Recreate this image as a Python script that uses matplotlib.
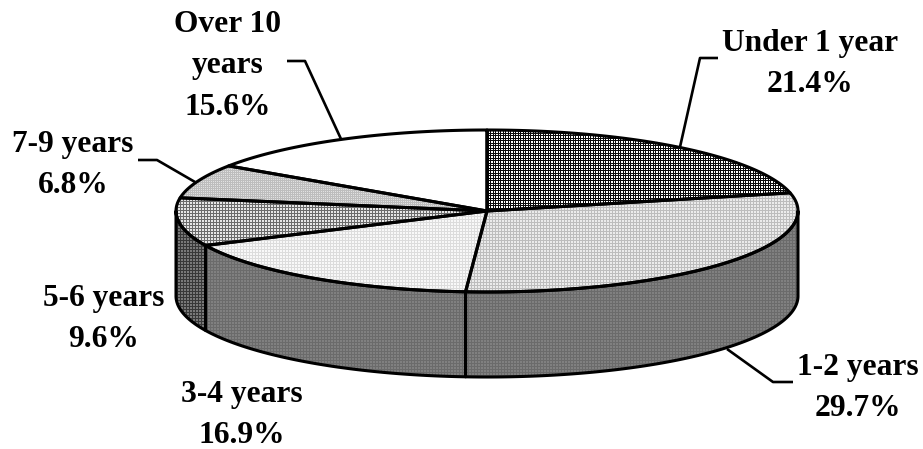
import numpy as np
import matplotlib
matplotlib.use("Agg")
import matplotlib.pyplot as plt
from matplotlib.patches import Polygon

# slices, clockwise from 12 o'clock
labels = ["Under 1 year", "1-2 years", "3-4 years", "5-6 years", "7-9 years", "Over 10\nyears"]
shares = [21.4, 29.7, 16.9, 9.6, 6.8, 15.6]

W, H = 923, 449
CX, CY, RX, RY, DEPTH = 487, 211, 311, 81, 85
LW = 2.2

label_pos = [(810, 64), (858, 388), (242, 415), (104, 319), (73, 165), (228, 66)]
leaders = [[(718, 58), (700, 58), (680, 147)],
           [(793, 382), (773, 382), (727, 349)],
           None,
           None,
           [(138, 160), (157, 160), (195, 182)],
           [(287, 61), (305, 61), (341, 139)]]

yy, xx = np.mgrid[0:H, 0:W]


def grid(period, on, off, frac=0.33):
    # woven screen pattern, like the old office-chart fills
    lines = ((xx % period) < period * frac) | ((yy % period) < period * frac)
    return np.where(lines, on, off)


top_fill = [grid(2.5, 0.05, 1.0, 0.4), grid(3, 0.74, 0.92), grid(3, 0.86, 0.97),
            grid(3, 0.42, 0.9), grid(2, 0.74, 0.88, 0.5), np.ones((H, W))]
wall_fill = [None, grid(3, 0.42, 0.5), grid(3, 0.42, 0.5), grid(3, 0.22, 0.48)]


def pt(deg):
    a = np.radians(deg)
    return CX + RX * np.cos(a), CY - RY * np.sin(a)


def arc(d0, d1):
    a = np.linspace(d0, d1, 200)
    return np.column_stack(pt(a))


def fill(ax, verts, img):
    im = ax.imshow(img, cmap="gray", vmin=0, vmax=1, extent=(0, W, H, 0),
                   interpolation="nearest", aspect="auto", zorder=1)
    edge = Polygon(verts, closed=True, fc="none", ec="black", lw=LW,
                   joinstyle="round", zorder=2)
    ax.add_patch(edge)
    im.set_clip_path(edge)


plt.rcParams["font.family"] = "Liberation Serif"
fig = plt.figure(figsize=(W / 100, H / 100), dpi=100)
ax = fig.add_axes([0, 0, 1, 1])

angles = 90 - np.cumsum([0] + shares) * 3.6

# side wall, only the part of each slice facing the viewer
for i in range(len(shares)):
    d0, d1 = angles[i], angles[i + 1]
    lo, hi = max(d1, -180), min(d0, 0)
    if lo >= hi:
        continue
    front = arc(hi, lo)
    verts = np.vstack([front, (front + [0, DEPTH])[::-1]])
    fill(ax, verts, wall_fill[i])

# top face
for i in range(len(shares)):
    verts = np.vstack([[(CX, CY)], arc(angles[i], angles[i + 1])])
    fill(ax, verts, top_fill[i])

for pts in leaders:
    if pts:
        ax.plot(*zip(*pts), color="black", lw=1.9, solid_capstyle="butt", zorder=3)

for lab, val, (x, y) in zip(labels, shares, label_pos):
    ax.text(x, y, f"{lab}\n{val}%", ha="center", va="center", ma="center",
            fontsize=22.7, fontweight="bold", linespacing=1.55, zorder=4)

ax.set_xlim(0, W)
ax.set_ylim(H, 0)
ax.axis("off")
fig.savefig("out.png", dpi=100, facecolor="white")
